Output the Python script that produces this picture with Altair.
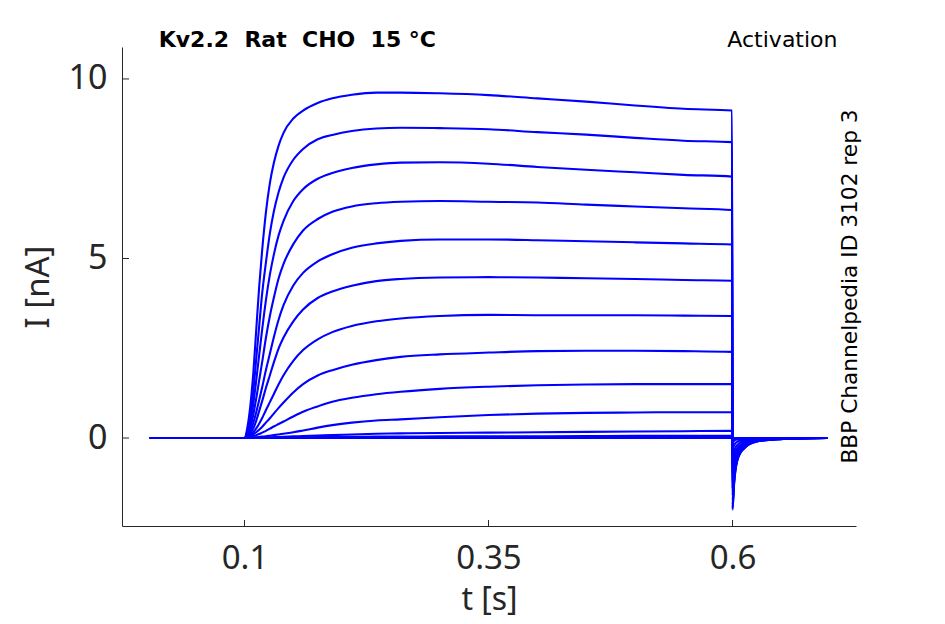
import altair as alt
import pandas as pd

# time grid (s)
TIME = [0.003, 0.0995, 0.1,
        0.103, 0.106, 0.109, 0.112, 0.115, 0.118, 0.122, 0.126, 0.13, 0.135,
        0.14, 0.15, 0.16, 0.175, 0.19, 0.21, 0.235, 0.26, 0.3, 0.35, 0.4,
        0.45, 0.5, 0.55, 0.5995,
        0.6, 0.6015, 0.603, 0.605, 0.608, 0.612, 0.617, 0.624, 0.634, 0.648,
        0.665, 0.697]

# current traces (nA)
I_01 = [0, 0, 0,
        0.3, 0.9, 1.8, 3.0, 4.2, 5.2, 6.3, 7.1, 7.65, 8.15, 8.5, 8.9, 9.12, 9.33,
        9.46, 9.56, 9.62, 9.62, 9.6, 9.55, 9.46, 9.37, 9.26, 9.17, 9.12,
        -2.0, -1.32, -0.9, -0.62, -0.42, -0.29, -0.18, -0.1, -0.06, -0.03, -0.01, 0.0]
I_02 = [0, 0, 0,
        0.2, 0.6, 1.3, 2.2, 3.1, 4.0, 4.9, 5.7, 6.3, 6.85, 7.25, 7.75, 8.05, 8.32,
        8.44, 8.55, 8.62, 8.64, 8.63, 8.6, 8.52, 8.45, 8.36, 8.28, 8.24,
        -1.94, -1.28, -0.87, -0.6, -0.41, -0.28, -0.17, -0.1, -0.06, -0.03, -0.01, 0.0]
I_03 = [0, 0, 0,
        0.15, 0.45, 0.95, 1.6, 2.3, 3.0, 3.85, 4.55, 5.1, 5.65, 6.05, 6.6, 6.93, 7.22,
        7.38, 7.52, 7.62, 7.67, 7.68, 7.64, 7.55, 7.47, 7.4, 7.33, 7.28,
        -1.86, -1.23, -0.84, -0.58, -0.39, -0.27, -0.17, -0.09, -0.06, -0.03, -0.01, 0.0]
I_04 = [0, 0, 0,
        0.1, 0.3, 0.65, 1.1, 1.6, 2.1, 2.8, 3.4, 3.9, 4.45, 4.85, 5.4, 5.78, 6.1,
        6.3, 6.45, 6.54, 6.58, 6.6, 6.58, 6.56, 6.5, 6.45, 6.4, 6.35,
        -1.74, -1.15, -0.78, -0.54, -0.37, -0.25, -0.16, -0.09, -0.05, -0.03, -0.01, 0.0]
I_05 = [0, 0, 0,
        0.07, 0.2, 0.42, 0.72, 1.05, 1.4, 1.9, 2.35, 2.8, 3.3, 3.7, 4.25, 4.6, 4.92,
        5.12, 5.3, 5.42, 5.49, 5.53, 5.53, 5.51, 5.48, 5.45, 5.42, 5.39,
        -1.6, -1.06, -0.72, -0.5, -0.34, -0.23, -0.14, -0.08, -0.05, -0.02, -0.01, 0.0]
I_06 = [0, 0, 0,
        0.05, 0.13, 0.27, 0.48, 0.75, 1.02, 1.4, 1.75, 2.1, 2.5, 2.8, 3.25, 3.58, 3.9,
        4.08, 4.24, 4.37, 4.43, 4.47, 4.48, 4.47, 4.45, 4.43, 4.4, 4.38,
        -1.4, -0.92, -0.63, -0.43, -0.29, -0.2, -0.13, -0.07, -0.04, -0.02, -0.01, 0.0]
I_07 = [0, 0, 0,
        0.03, 0.08, 0.16, 0.27, 0.4, 0.55, 0.78, 1.0, 1.22, 1.5, 1.75, 2.15, 2.45, 2.75,
        2.95, 3.12, 3.25, 3.33, 3.4, 3.43, 3.42, 3.42, 3.42, 3.41, 3.40,
        -1.16, -0.77, -0.52, -0.36, -0.24, -0.17, -0.1, -0.06, -0.03, -0.02, -0.01, 0.0]
I_08 = [0, 0, 0,
        0.02, 0.05, 0.1, 0.16, 0.23, 0.31, 0.43, 0.55, 0.68, 0.84, 0.99, 1.27, 1.5, 1.74,
        1.89, 2.04, 2.17, 2.26, 2.33, 2.38, 2.42, 2.43, 2.43, 2.42, 2.40,
        -0.9, -0.59, -0.41, -0.28, -0.19, -0.13, -0.08, -0.05, -0.03, -0.01, 0.0, 0.0]
I_09 = [0, 0, 0,
        0.01, 0.03, 0.05, 0.08, 0.11, 0.15, 0.2, 0.26, 0.32, 0.39, 0.46, 0.6, 0.73, 0.88,
        1.01, 1.12, 1.22, 1.29, 1.37, 1.43, 1.47, 1.49, 1.5, 1.5, 1.5,
        -0.6, -0.4, -0.27, -0.19, -0.13, -0.09, -0.05, -0.03, -0.02, -0.01, 0.0, 0.0]
I_10 = [0, 0, 0,
        0.0, 0.01, 0.015, 0.02, 0.03, 0.04, 0.05, 0.065, 0.08, 0.1, 0.12, 0.16, 0.21, 0.29,
        0.36, 0.43, 0.49, 0.52, 0.58, 0.64, 0.68, 0.7, 0.71, 0.72, 0.72,
        -0.32, -0.21, -0.14, -0.1, -0.07, -0.05, -0.03, -0.02, -0.01, 0.0, 0.0, 0.0]
I_11 = [0, 0, 0,
        0.0, 0.0, 0.0, 0.01, 0.01, 0.01, 0.02, 0.02, 0.025, 0.03, 0.035, 0.045, 0.055, 0.07,
        0.08, 0.1, 0.12, 0.13, 0.14, 0.15, 0.16, 0.17, 0.18, 0.19, 0.2,
        -0.12, -0.08, -0.05, -0.04, -0.03, -0.02, -0.01, -0.01, 0.0, 0.0, 0.0, 0.0]
I_12 = [0, 0, 0,
        0.0, 0.0, 0.0, 0.0, 0.0, 0.0, 0.0, 0.0, 0.005, 0.01, 0.01, 0.015, 0.02, 0.025,
        0.03, 0.035, 0.04, 0.04, 0.045, 0.05, 0.05, 0.055, 0.06, 0.06, 0.06,
        -0.04, -0.03, -0.02, -0.01, -0.01, 0.0, 0.0, 0.0, 0.0, 0.0, 0.0, 0.0]
I_13 = [0, 0, 0,
        0.0, 0.0, 0.0, 0.0, 0.0, 0.0, 0.0, 0.0, 0.0, 0.0, 0.0, 0.0, 0.005, 0.005,
        0.01, 0.01, 0.01, 0.015, 0.015, 0.02, 0.02, 0.02, 0.02, 0.02, 0.02,
        -0.01, -0.01, 0.0, 0.0, 0.0, 0.0, 0.0, 0.0, 0.0, 0.0, 0.0, 0.0]
I_14 = [0, 0, 0,
        0.0, 0.0, 0.0, 0.0, 0.0, 0.0, 0.0, 0.0, 0.0, 0.0, 0.0, 0.0, 0.0, 0.0,
        0.0, 0.0, 0.0, 0.0, 0.0, 0.0, 0.0, 0.0, 0.0, 0.0, 0.0,
        0.0, 0.0, 0.0, 0.0, 0.0, 0.0, 0.0, 0.0, 0.0, 0.0, 0.0, 0.0]

TRACES = [I_01, I_02, I_03, I_04, I_05, I_06, I_07, I_08, I_09, I_10, I_11, I_12, I_13, I_14]

X_TICKS = [0.1, 0.35, 0.6]
Y_TICKS = [0, 5, 10]
X_DOMAIN = [-0.0255, 0.7265]
Y_DOMAIN = [-2.45, 10.89]

TITLE_LEFT = "Kv2.2\u00a0\u00a0Rat\u00a0\u00a0CHO\u00a0\u00a015\u00a0°C"
TITLE_RIGHT = "Activation"
SIDE_TEXT = "BBP Channelpedia ID 3102 rep 3"

W, H = 734, 479
AX = "#262626"
TICK_FONT = "Noto Sans"

rows = []
for k, tr in enumerate(TRACES):
    for t, v in zip(TIME, tr):
        rows.append({"trace": k, "t": t, "I": v})
df = pd.DataFrame(rows)

xscale = alt.Scale(domain=X_DOMAIN, nice=False, zero=False)
yscale = alt.Scale(domain=Y_DOMAIN, nice=False, zero=False)

x_axis = alt.Axis(values=X_TICKS, format="~g", title="t [s]", grid=False, ticks=False,
                  tickSize=0, domainColor=AX, domainWidth=1, labelFont=TICK_FONT,
                  labelFontSize=33, labelColor=AX, labelPadding=42,
                  labelBaseline="alphabetic", labelFlush=False, titleFont=TICK_FONT,
                  titleFontSize=32, titleColor=AX, titleFontWeight="normal",
                  titleBaseline="alphabetic", titleY=83, titleX=W / 2)
y_axis = alt.Axis(values=Y_TICKS, format="d", title="I [nA]", grid=False, ticks=False,
                  tickSize=0, domainColor=AX, domainWidth=1, labelFont=TICK_FONT,
                  labelFontSize=34, labelColor=AX, labelPadding=15, labelFlush=False,
                  titleFont=TICK_FONT, titleFontSize=33, titleColor=AX,
                  titleFontWeight="normal", titleAngle=270, titleBaseline="alphabetic",
                  titleX=-74, titleY=H / 2)

lines = alt.Chart(df).mark_line(color="#0000ff", strokeWidth=2.1, interpolate="monotone",
                                clip=True).encode(
    x=alt.X("t:Q", scale=xscale, axis=x_axis),
    y=alt.Y("I:Q", scale=yscale, axis=y_axis),
    detail="trace:N",
)

xt = alt.Chart(pd.DataFrame({"t": X_TICKS})).mark_rule(color=AX, strokeWidth=1).encode(
    x=alt.X("t:Q", scale=xscale), y=alt.value(H), y2=alt.value(H - 6))
yt = alt.Chart(pd.DataFrame({"I": Y_TICKS})).mark_rule(color=AX, strokeWidth=1).encode(
    y=alt.Y("I:Q", scale=yscale), x=alt.value(0), x2=alt.value(7))

t1 = alt.Chart(pd.DataFrame({"s": [TITLE_LEFT]})).mark_text(
    font="DejaVu Sans", fontSize=22, fontWeight="bold", align="left",
    baseline="alphabetic", color="black").encode(
    text="s:N", x=alt.value(36.7), y=alt.value(0))
t2 = alt.Chart(pd.DataFrame({"s": [TITLE_RIGHT]})).mark_text(
    font="DejaVu Sans", fontSize=22, align="right", baseline="alphabetic",
    color="black").encode(text="s:N", x=alt.value(715.5), y=alt.value(-0.3))
t3 = alt.Chart(pd.DataFrame({"s": [SIDE_TEXT]})).mark_text(
    font="DejaVu Sans", fontSize=21.7, align="center", baseline="alphabetic", angle=270,
    color="black").encode(text="s:N", x=alt.value(735), y=alt.value(H / 2))

chart = alt.layer(lines, xt, yt, t1, t2, t3).properties(
    width=W, height=H,
    autosize=alt.AutoSizeParams(type="none"),
    padding={"left": 114, "top": 39, "right": 80, "bottom": 92},
).configure_view(stroke=None)

chart.save("out.html", embed_options={"renderer": "svg", "actions": False})
